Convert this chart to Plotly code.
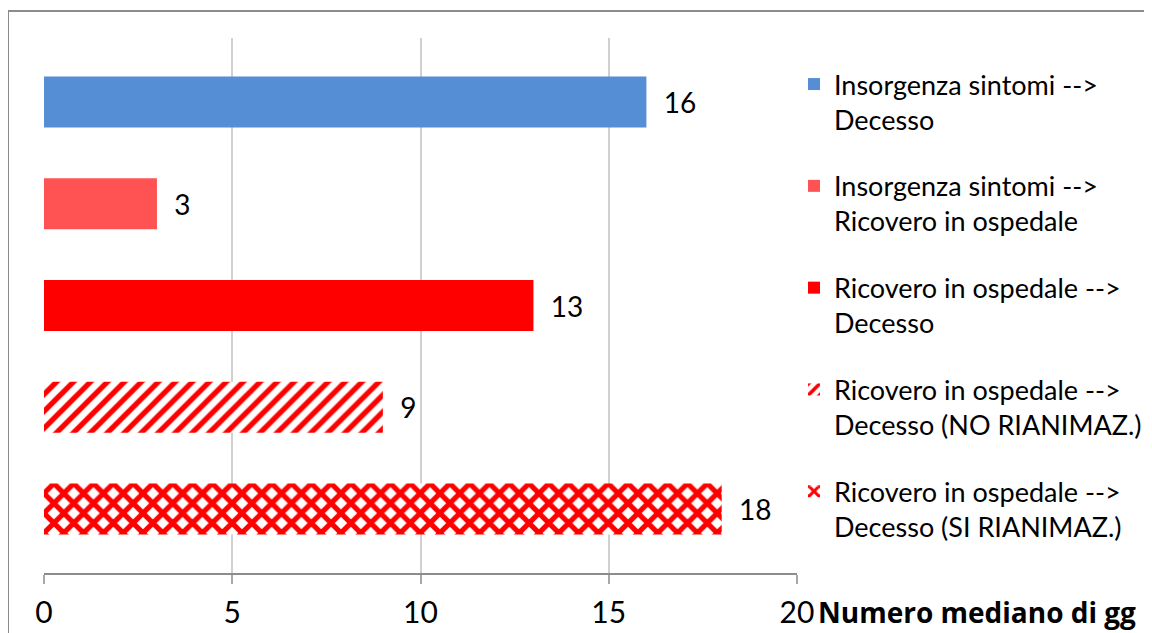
import plotly.graph_objects as go

# ---- data ----
series_names = [
    "Insorgenza sintomi --><br>Decesso",
    "Insorgenza sintomi --><br>Ricovero in ospedale",
    "Ricovero in ospedale --><br>Decesso",
    "Ricovero in ospedale --><br>Decesso (NO RIANIMAZ.)",
    "Ricovero in ospedale --><br>Decesso (SI RIANIMAZ.)",
]
values = [16, 3, 13, 9, 18]
colors = ["#558ED5", "#FF5353", "#FF0000", "#FF0000", "#FF0000"]
patterns = ["", "", "", "/", "x"]
x_ticks = [0, 5, 10, 15, 20]
x_title = "Numero mediano di gg"

FONT = "Lato"
OFF = 8  # browser body margin
W, H = 1152 - OFF, 633 - OFF
# plot area in reference-pixel coordinates
L, R, T, B = 44, 797, 38, 573
pw, ph = R - L, B - T


def px(xp):
    return (xp - L) / pw


def py(yp):
    return (B - yp) / ph


fig = go.Figure()
for i, (name, v, c, p) in enumerate(zip(series_names, values, colors, patterns)):
    marker = dict(color=c, line=dict(width=0))
    if p:
        marker["pattern"] = dict(shape=p, fgcolor=c, bgcolor="white", fgopacity=1,
                                 size=12 if p == "/" else 14,
                                 solidity=0.45 if p == "/" else 0.6,
                                 fillmode="replace")
    fig.add_trace(go.Bar(
        x=[v], y=[i], orientation="h", name=name, marker=marker,
        width=0.5, text=[v], texttemplate="  %{x}", textposition="outside",
        textfont=dict(family=FONT, size=28, color="black"), cliponaxis=False,
        legendgroup=f"g{i}", showlegend=True,
    ))

fig.update_layout(
    width=W, height=H,
    margin=dict(l=L - OFF, r=W - (R - OFF), t=T - OFF, b=H - (B - OFF), autoexpand=False),
    paper_bgcolor="white", plot_bgcolor="white",
    barmode="overlay",
    font=dict(family=FONT, size=27, color="black"),
    showlegend=True,
    legend=dict(x=px(794), xanchor="left", y=py(60), yanchor="top",
                valign="top", tracegroupgap=28.6, font=dict(family=FONT, size=27),
                bgcolor="rgba(0,0,0,0)"),
    xaxis=dict(range=[0, 20], tickvals=x_ticks, showgrid=True, gridcolor="#D0D0D0",
               gridwidth=2, zeroline=False, showline=True, linecolor="#8C8C8C",
               linewidth=2, ticks="outside", ticklen=9, tickwidth=2, tickcolor="#A8A8A8",
               ticklabelstandoff=3, tickfont=dict(family=FONT, size=30, color="black")),
    yaxis=dict(range=[4.629, -0.629], showticklabels=False, showgrid=False,
               zeroline=False, showline=False, ticks=""),
    annotations=[dict(text="<b>" + x_title + "</b>", xref="paper", yref="paper",
                      x=px(816), xanchor="left", y=py(612), yanchor="middle",
                      showarrow=False,
                      font=dict(family="Open Sans", size=28, color="black"))],
    shapes=[dict(type="rect", xref="paper", yref="paper",
                 x0=px(8), x1=px(1170), y0=py(650), y1=py(11),
                 line=dict(color="#8C8C8C", width=2), fillcolor="rgba(0,0,0,0)",
                 layer="below")],
)

fig.write_html("out.html")
